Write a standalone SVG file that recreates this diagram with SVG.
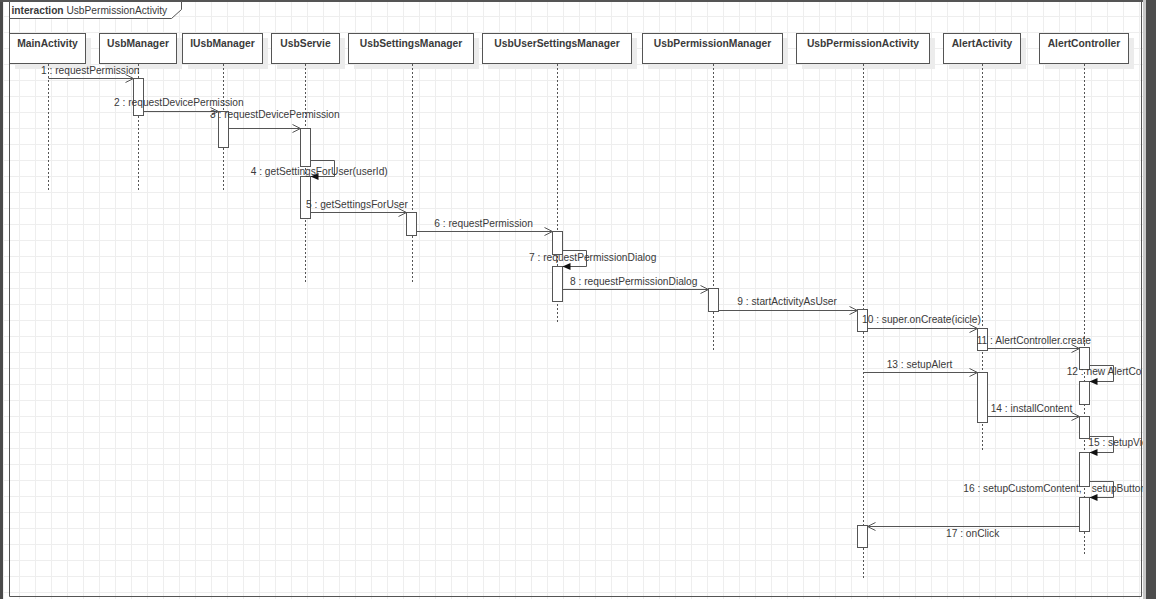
<svg xmlns="http://www.w3.org/2000/svg" width="1156" height="599" viewBox="0 0 1156 599">
<defs>
<pattern id="grid" patternUnits="userSpaceOnUse" x="3" y="0" width="16" height="16">
<path d="M0.5 0V16M0 0.5H16" stroke="#eeeeee" stroke-width="1" fill="none"/>
</pattern>
<clipPath id="clip"><rect x="0" y="0" width="1143" height="599"/></clipPath>
<marker id="open" markerWidth="10" markerHeight="10" refX="9" refY="5" orient="auto" markerUnits="userSpaceOnUse">
<path d="M1 1L9 5L1 9" fill="none" stroke="#555" stroke-width="1"/>
</marker>
<marker id="fill" markerWidth="10" markerHeight="10" refX="9" refY="5" orient="auto" markerUnits="userSpaceOnUse">
<path d="M1 1.5L9 5L1 8.5Z" fill="#111" stroke="none"/>
</marker>
</defs>
<style>
.hdr{fill:#fff;stroke:#555;stroke-width:1}
.shd{fill:#ececec;stroke:none}
.ht{font-family:"Liberation Sans",Arial,sans-serif;font-size:10.3px;font-weight:bold;fill:#3a3a3a;text-anchor:middle}
.life{stroke:#555;stroke-width:1;stroke-dasharray:2 2;fill:none}
.act{fill:#fff;stroke:#555;stroke-width:1}
.msg{stroke:#555;stroke-width:1;fill:none}
.lbl{font-family:"Liberation Sans",Arial,sans-serif;font-size:10.2px;fill:#3a3a3a}
.ft{font-family:"Liberation Sans",Arial,sans-serif;font-size:10.2px;fill:#3a3a3a}
</style>
<rect x="0" y="0" width="1156" height="599" fill="#fff"/>
<rect x="0" y="0" width="1156" height="599" fill="url(#grid)"/>
<rect x="0" y="0" width="3" height="599" fill="#4a4a4a"/>
<rect x="1143" y="0" width="3" height="599" fill="#c8c8c8"/>
<rect x="1146" y="0" width="10" height="599" fill="#4d4d4d"/>
<g clip-path="url(#clip)">
<g id="frame">
<path d="M9.5 1.5H1141.5V596.5H9.5Z" fill="none" stroke="#555" stroke-width="1"/>
<rect x="0" y="0" width="1143" height="2" fill="#555"/>
<path d="M9.5 1.5H181.5V9.5L171.5 18.5H9.5Z" fill="#fff" stroke="#555" stroke-width="1"/>
<text class="ft" x="11.5" y="13.5"><tspan font-weight="bold">interaction</tspan> UsbPermissionActivity</text>
</g>
<g id="MainActivity">
<rect class="shd" x="15" y="38" width="76" height="31"/>
<line class="life" x1="48.5" y1="64" x2="48.5" y2="192"/>
<rect class="hdr" x="9.5" y="33.5" width="76" height="30"/>
<text class="ht" x="47.5" y="46.5">MainActivity</text>
</g>
<g id="UsbManager">
<rect class="shd" x="105" y="38" width="77" height="31"/>
<line class="life" x1="138.5" y1="64" x2="138.5" y2="192"/>
<rect class="hdr" x="99.5" y="33.5" width="77" height="30"/>
<text class="ht" x="138" y="46.5">UsbManager</text>
<rect class="act" x="133.5" y="78.5" width="10" height="37"/>
</g>
<g id="IUsbManager">
<rect class="shd" x="188" y="38" width="80" height="31"/>
<line class="life" x1="223.5" y1="64" x2="223.5" y2="192"/>
<rect class="hdr" x="182.5" y="33.5" width="80" height="30"/>
<text class="ht" x="222.5" y="46.5">IUsbManager</text>
<rect class="act" x="218.5" y="111.5" width="10" height="36"/>
</g>
<g id="UsbServie">
<rect class="shd" x="277" y="38" width="68" height="31"/>
<line class="life" x1="305.5" y1="64" x2="305.5" y2="283"/>
<rect class="hdr" x="271.5" y="33.5" width="68" height="30"/>
<text class="ht" x="305.5" y="46.5">UsbServie</text>
<rect class="act" x="300.5" y="128.5" width="10" height="38"/>
<rect class="act" x="300.5" y="176.5" width="10" height="42"/>
</g>
<g id="UsbSettingsManager">
<rect class="shd" x="354" y="38" width="125" height="31"/>
<line class="life" x1="412.5" y1="64" x2="412.5" y2="283"/>
<rect class="hdr" x="348.5" y="33.5" width="125" height="30"/>
<text class="ht" x="411" y="46.5">UsbSettingsManager</text>
<rect class="act" x="406.5" y="212.5" width="10" height="23"/>
</g>
<g id="UsbUserSettingsManager">
<rect class="shd" x="488" y="38" width="149" height="31"/>
<line class="life" x1="557.5" y1="64" x2="557.5" y2="322"/>
<rect class="hdr" x="482.5" y="33.5" width="149" height="30"/>
<text class="ht" x="557" y="46.5">UsbUserSettingsManager</text>
<rect class="act" x="552.5" y="231.5" width="10" height="23"/>
<rect class="act" x="552.5" y="266.5" width="10" height="35"/>
</g>
<g id="UsbPermissionManager">
<rect class="shd" x="648" y="38" width="140" height="31"/>
<line class="life" x1="713.5" y1="64" x2="713.5" y2="350"/>
<rect class="hdr" x="642.5" y="33.5" width="140" height="30"/>
<text class="ht" x="712.5" y="46.5">UsbPermissionManager</text>
<rect class="act" x="708.5" y="288.5" width="10" height="23"/>
</g>
<g id="UsbPermissionActivity">
<rect class="shd" x="802" y="38" width="133" height="31"/>
<line class="life" x1="863.5" y1="64" x2="863.5" y2="580"/>
<rect class="hdr" x="796.5" y="33.5" width="133" height="30"/>
<text class="ht" x="863" y="46.5">UsbPermissionActivity</text>
<rect class="act" x="857.5" y="309.5" width="10" height="22"/>
<rect class="act" x="857.5" y="525.5" width="10" height="22"/>
</g>
<g id="AlertActivity">
<rect class="shd" x="949" y="38" width="77" height="31"/>
<line class="life" x1="982.5" y1="64" x2="982.5" y2="450"/>
<rect class="hdr" x="943.5" y="33.5" width="77" height="30"/>
<text class="ht" x="982" y="46.5">AlertActivity</text>
<rect class="act" x="977.5" y="328.5" width="10" height="22"/>
<rect class="act" x="977.5" y="372.5" width="10" height="50"/>
</g>
<g id="AlertController">
<rect class="shd" x="1045" y="38" width="89" height="31"/>
<line class="life" x1="1084.5" y1="64" x2="1084.5" y2="556"/>
<rect class="hdr" x="1039.5" y="33.5" width="89" height="30"/>
<text class="ht" x="1084" y="46.5">AlertController</text>
<rect class="act" x="1079.5" y="347.5" width="10" height="22"/>
<rect class="act" x="1079.5" y="381.5" width="10" height="23"/>
<rect class="act" x="1079.5" y="416.5" width="10" height="22"/>
<rect class="act" x="1079.5" y="452.5" width="10" height="34"/>
<rect class="act" x="1079.5" y="497.5" width="10" height="34"/>
</g>
<g id="connectors">
<path class="msg" d="M48.5 78.5H133.5" marker-end="url(#open)"/>
<text class="lbl" x="41" y="73.5">1 : requestPermission</text>
<path class="msg" d="M143.5 111.5H218.5" marker-end="url(#open)"/>
<text class="lbl" x="114" y="106">2 : requestDevicePermission</text>
<path class="msg" d="M228.5 128.5H300.5" marker-end="url(#open)"/>
<text class="lbl" x="210" y="117.5">3 : requestDevicePermission</text>
<path class="msg" d="M310.5 160.5H334.5V176.5H310.5" marker-end="url(#fill)"/>
<text class="lbl" x="250.7" y="174.5">4 : getSettingsForUser(userId)</text>
<path class="msg" d="M310.5 212.5H406.5" marker-end="url(#open)"/>
<text class="lbl" x="306" y="208">5 : getSettingsForUser</text>
<path class="msg" d="M416.5 231.5H552.5" marker-end="url(#open)"/>
<text class="lbl" x="434.3" y="227">6 : requestPermission</text>
<path class="msg" d="M562.5 250.5H586.5V266.5H562.5" marker-end="url(#fill)"/>
<text class="lbl" x="529" y="261">7 : requestPermissionDialog</text>
<path class="msg" d="M562.5 289.5H708.5" marker-end="url(#open)"/>
<text class="lbl" x="570" y="284.5">8 : requestPermissionDialog</text>
<path class="msg" d="M718.5 310.5H857.5" marker-end="url(#open)"/>
<text class="lbl" x="737.3" y="305">9 : startActivityAsUser</text>
<path class="msg" d="M867.5 328.5H977.5" marker-end="url(#open)"/>
<text class="lbl" x="862" y="323">10 : super.onCreate(icicle)</text>
<path class="msg" d="M987.5 348.5H1079.5" marker-end="url(#open)"/>
<text class="lbl" x="976.7" y="343.5">11 : AlertController.create</text>
<path class="msg" d="M1089.5 365.5H1113.5V381.5H1089.5" marker-end="url(#fill)"/>
<text class="lbl" x="1066.7" y="375">12 : new AlertCo</text>
<path class="msg" d="M863.5 372.5H977.5" marker-end="url(#open)"/>
<text class="lbl" x="886.7" y="368">13 : setupAlert</text>
<path class="msg" d="M987.5 416.5H1079.5" marker-end="url(#open)"/>
<text class="lbl" x="990.7" y="412">14 : installContent</text>
<path class="msg" d="M1089.5 436.5H1113.5V452.5H1089.5" marker-end="url(#fill)"/>
<text class="lbl" x="1088.3" y="446">15 : setupVie</text>
<path class="msg" d="M1089.5 481.5H1113.5V497.5H1089.5" marker-end="url(#fill)"/>
<text class="lbl" x="963.3" y="492">16 : setupCustomContent, <tspan x="1091.7">setupButtor</tspan></text>
<path class="msg" d="M1079.5 526.5H867.5" marker-end="url(#open)"/>
<text class="lbl" x="946" y="537">17 : onClick</text>
</g>
</g>
</svg>
